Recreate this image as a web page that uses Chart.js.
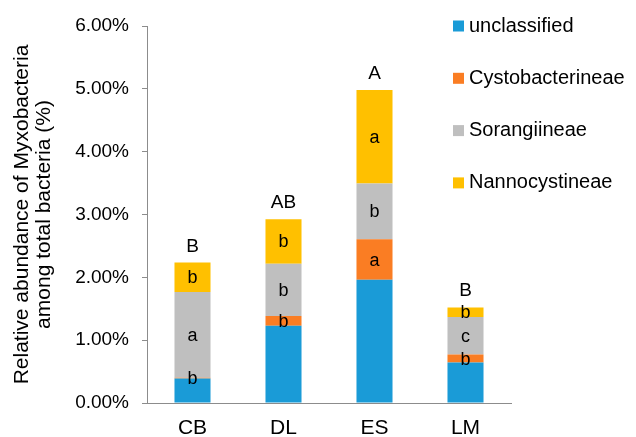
<!DOCTYPE html>
<html>
<head>
<meta charset="utf-8">
<script src="https://cdn.jsdelivr.net/npm/chart.js@4/dist/chart.umd.min.js"></script>
<style>
  html, body { margin: 0; padding: 0; background: #ffffff; }
  #wrap { width: 636px; height: 437px; }
</style>
</head>
<body>
<div id="wrap"><canvas id="c" width="636" height="437"></canvas></div>
<script>
// Sampling sites
const categories = ['CB', 'DL', 'ES', 'LM'];

// Relative abundance (% of total bacteria) per suborder
const unclassified     = [0.39, 1.23, 1.96, 0.645];
const cystobacterineae = [0.01, 0.155, 0.645, 0.125];
const sorangiineae     = [1.365, 0.83, 0.89, 0.60];
const nannocystineae   = [0.47, 0.71, 1.485, 0.15];

// Significance letters: whole bar, then per suborder segment
const totalLetters  = ['B', 'AB', 'A', 'B'];
const cystoLetters  = ['b', 'b', 'a', 'b'];
const sorangLetters = ['a', 'b', 'b', 'c'];
const nannoLetters  = ['b', 'b', 'a', 'b'];

// Y axis ticks
const yTicks = [0, 1, 2, 3, 4, 5, 6];

const seriesNames  = ['unclassified', 'Cystobacterineae', 'Sorangiineae', 'Nannocystineae'];
const seriesColors = ['#1a9bd7', '#fa7d23', '#bfbfbf', '#ffc000'];

const FONT = '"Liberation Sans", Arial, Helvetica, sans-serif';
const AXIS_GREY = '#8c8c8c';

// Letters inside the stacked segments and above each bar
const letterPlugin = {
  id: 'letters',
  afterDatasetsDraw(chart) {
    const ctx = chart.ctx;
    const segLetters = [null, cystoLetters, sorangLetters, nannoLetters];
    ctx.save();
    ctx.fillStyle = '#000';
    ctx.textAlign = 'center';
    ctx.font = '18px ' + FONT;
    ctx.textBaseline = 'middle';
    for (let d = 1; d < segLetters.length; d++) {
      const meta = chart.getDatasetMeta(d);
      meta.data.forEach((el, i) => {
        const yMid = (el.y + el.base) / 2;
        ctx.fillText(segLetters[d][i], el.x, yMid + 1);
      });
    }
    const top = chart.getDatasetMeta(chart.data.datasets.length - 1);
    ctx.textBaseline = 'alphabetic';
    ctx.font = '19px ' + FONT;
    top.data.forEach((el, i) => {
      ctx.fillText(totalLetters[i], el.x, el.y - 11);
    });
    ctx.restore();
  }
};

// Legend drawn over the upper right of the plot
const legendPlugin = {
  id: 'sideLegend',
  afterDraw(chart) {
    const ctx = chart.ctx;
    ctx.save();
    ctx.font = '20px ' + FONT;
    ctx.textBaseline = 'middle';
    ctx.textAlign = 'left';
    const x0 = 453, y0 = 26, gap = 52.3;
    chart.data.datasets.forEach((ds, i) => {
      const y = y0 + i * gap;
      ctx.fillStyle = ds.backgroundColor;
      ctx.fillRect(x0, y - 5.5, 11, 11);
      ctx.fillStyle = '#000';
      ctx.fillText(ds.label, x0 + 16, y);
    });
    ctx.restore();
  }
};

const datasets = [unclassified, cystobacterineae, sorangiineae, nannocystineae].map((vals, i) => ({
  label: seriesNames[i],
  data: vals,
  backgroundColor: seriesColors[i],
  borderWidth: 0,
  barPercentage: 0.396,
  categoryPercentage: 1.0
}));

new Chart(document.getElementById('c'), {
  type: 'bar',
  data: { labels: categories, datasets },
  options: {
    responsive: false,
    animation: false,
    events: [],
    layout: { padding: { top: 26, right: 125, left: 0, bottom: 0 } },
    plugins: {
      legend: { display: false },
      tooltip: { enabled: false }
    },
    scales: {
      x: {
        stacked: true,
        grid: { display: false, drawTicks: false },
        border: { display: true, color: AXIS_GREY, width: 1 },
        ticks: { color: '#000', font: { family: FONT, size: 21 }, padding: 13 },
        afterFit(scale) { scale.height = 34; }
      },
      y: {
        stacked: true,
        min: 0,
        max: 6,
        afterBuildTicks(scale) { scale.ticks = yTicks.map(v => ({ value: v })); },
        grid: { drawOnChartArea: false, drawTicks: true, tickLength: 5, color: AXIS_GREY },
        border: { display: true, color: AXIS_GREY, width: 1 },
        ticks: {
          color: '#000',
          font: { family: FONT, size: 19 },
          padding: 13,
          callback: v => Number(v).toFixed(2) + '%'
        },
        title: {
          display: true,
          text: ['Relative abundance of Myxobacteria', 'among total bacteria (%)'],
          color: '#000',
          font: { family: FONT, size: 21, lineHeight: 1.05 },
          padding: { top: 11, bottom: 0 }
        },
        afterFit(scale) { scale.width = 147; }
      }
    }
  },
  plugins: [letterPlugin, legendPlugin]
});
</script>
</body>
</html>
